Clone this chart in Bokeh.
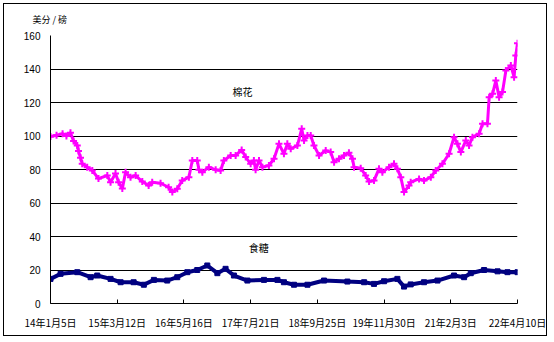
import pandas as pd
from bokeh.plotting import figure
from bokeh.models import Range1d, FixedTicker, Label
from bokeh.embed import file_html
from bokeh.resources import INLINE

# ---- data (days since 2014-01-05, value in US cents / lb) ----
tick_days = [0, 431, 862, 1293, 1724, 2155, 2586, 3017]
tick_labels = ["14年1月5日", "15年3月12日", "16年5月16日", "17年7月21日",
               "18年9月25日", "19年11月30日", "21年2月3日", "22年4月10日"]

cotton_days = [0, 39, 78, 103, 129, 149, 173, 181, 194, 205, 237, 270, 310, 367,
               388, 420, 440, 464, 485, 517, 550, 593, 634, 657, 711, 763, 787,
               819, 851, 894, 916, 948, 959, 981, 1023, 1067, 1099, 1120, 1164,
               1196, 1235, 1261, 1293, 1314, 1325, 1347, 1369, 1411, 1444, 1476,
               1508, 1530, 1552, 1595, 1623, 1638, 1660, 1681, 1702, 1735, 1778,
               1810, 1832, 1864, 1896, 1928, 1951, 1961, 2004, 2036, 2058, 2090,
               2122, 2144, 2187, 2219, 2241, 2263, 2284, 2316, 2327, 2381, 2413,
               2457, 2489, 2532, 2575, 2607, 2629, 2651, 2683, 2704, 2726, 2769,
               2791, 2823, 2834, 2856, 2877, 2898, 2920, 2942, 2974, 2995, 3006,
               3017]
cotton_vals = [99.7, 100.5, 101.3, 100.0, 102.0, 97.0, 94.3, 91.0, 87.0, 83.5,
               81.4, 79.4, 74.6, 76.4, 72.4, 77.6, 72.4, 68.6, 78.4, 75.4, 76.4,
               72.8, 70.4, 72.4, 71.8, 69.4, 66.5, 68.5, 73.4, 75.4, 85.4, 85.4,
               79.8, 78.4, 81.4, 79.8, 79.4, 85.4, 88.4, 88.4, 91.7, 87.4, 83.4,
               85.4, 79.8, 85.4, 81.4, 82.4, 86.4, 95.3, 89.4, 95.3, 92.4, 94.3,
               104.3, 97.3, 100.3, 100.3, 94.3, 88.4, 91.3, 90.4, 84.4, 86.4, 88.4,
               90.0, 86.4, 81.4, 80.8, 76.4, 72.8, 73.4, 80.4, 78.4, 81.4, 83.4,
               80.4, 75.4, 66.5, 70.4, 72.4, 74.4, 73.4, 75.4, 79.4, 83.4, 89.4,
               99.3, 95.3, 90.4, 97.3, 94.3, 99.3, 101.3, 107.3, 107.3, 123.2,
               125.2, 133.1, 123.2, 126.2, 139.1, 142.1, 135.1, 148.0, 155.4]

sugar_days = [0, 65, 173, 259, 302, 388, 453, 537, 603, 668, 754, 819, 884, 948,
              1013, 1078, 1131, 1185, 1272, 1379, 1466, 1508, 1573, 1660, 1767,
              1918, 2026, 2090, 2155, 2241, 2284, 2327, 2413, 2500, 2607, 2672,
              2715, 2801, 2888, 2952, 3017]
sugar_vals = [14.7, 17.7, 18.7, 15.7, 16.7, 14.7, 12.7, 12.7, 11.2, 14.1, 13.7,
              15.7, 18.7, 20.0, 22.7, 18.1, 20.7, 16.7, 13.7, 14.1, 14.1, 12.7,
              11.2, 11.2, 13.7, 13.1, 12.7, 11.7, 13.3, 14.7, 10.1, 11.4, 12.7,
              13.7, 16.7, 15.7, 18.1, 20.0, 19.2, 18.7, 18.7]

y_ticks = [0, 20, 40, 60, 80, 100, 120, 140, 160]

cjk = "Noto Sans CJK SC"

# ---- figure ----
p = figure(width=544, height=333, output_backend="svg", toolbar_location=None,
           x_range=Range1d(0, 3017), y_range=Range1d(0, 160),
           min_border_left=46, min_border_right=31, min_border_top=31,
           min_border_bottom=34, title="美分 / 磅")
p.margin = (3, 0, 0, 3)
p.styles = {"border": "1px solid black"}
p.outline_line_color = None
p.background_fill_color = "white"
p.border_fill_color = "white"

p.title.align = "left"
p.title.vertical_align = "top"
p.title.offset = -18
p.title.standoff = 16
p.title.text_font = cjk
p.title.text_font_size = "9px"
p.title.text_font_style = "normal"
p.title.text_color = "black"

p.xgrid.visible = False
p.ygrid.grid_line_color = "black"
p.ygrid.grid_line_width = 1
p.yaxis.ticker = FixedTicker(ticks=y_ticks)
p.xaxis.ticker = FixedTicker(ticks=tick_days)
p.xaxis.major_label_overrides = {d: t for d, t in zip(tick_days, tick_labels)}

for ax in (p.xaxis[0], p.yaxis[0]):
    ax.axis_line_color = "black"
    ax.major_label_text_color = "black"
    ax.minor_tick_line_color = None
    ax.major_tick_line_color = "black"

p.yaxis.major_tick_out = 0
p.yaxis.major_tick_in = 0
p.yaxis.major_label_standoff = 10
p.yaxis.major_label_text_font = "Liberation Sans"
p.yaxis.major_label_text_font_size = "10px"

p.xaxis.major_tick_out = 0
p.xaxis.major_tick_in = 4
p.xaxis.major_label_standoff = 11
p.xaxis.major_label_text_font = cjk
p.xaxis.major_label_text_font_size = "10px"

# cotton
p.line(cotton_days, cotton_vals, line_color="#FF00FF", line_width=3)
p.scatter(cotton_days, cotton_vals, marker="cross", size=7, line_width=2,
          line_color="#FF00FF")

# sugar
p.line(sugar_days, sugar_vals, line_color="#000080", line_width=4)
p.scatter(sugar_days, sugar_vals, marker="square", size=5,
          fill_color="#000080", line_color="#000080")

p.add_layout(Label(x=1241, y=126.6, text="棉花", text_font=cjk,
                   text_font_size="10px", text_align="center",
                   text_baseline="middle", text_color="black"))
p.add_layout(Label(x=1345, y=33.6, text="食糖", text_font=cjk,
                   text_font_size="10px", text_align="center",
                   text_baseline="middle", text_color="black"))

open("out.html", "w").write(file_html(p, INLINE))
